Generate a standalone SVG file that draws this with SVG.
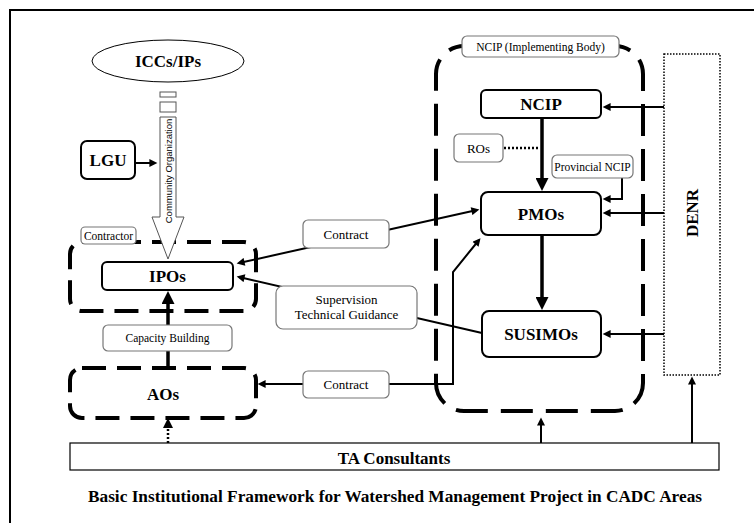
<svg xmlns="http://www.w3.org/2000/svg" width="754" height="523" viewBox="0 0 754 523" font-family="'Liberation Serif', 'Times New Roman', serif">
<defs>
<style>
.frame{fill:none;stroke:#000;stroke-width:2}
.grp{fill:none;stroke:#000;stroke-width:4;stroke-dasharray:24 11}
.grpn{fill:none;stroke:#000;stroke-width:4;stroke-dasharray:32 13}
.node{fill:#fff;stroke:#000;stroke-width:2}
.lbl{fill:#fff;stroke:#777;stroke-width:1.2}
.bt{font-family:'Liberation Serif','Times New Roman',serif;font-weight:bold;font-size:17px;text-anchor:middle;fill:#000}
.st{font-family:'Liberation Serif','Times New Roman',serif;font-size:13px;text-anchor:middle;fill:#000}
.ss{font-family:'Liberation Serif','Times New Roman',serif;font-size:11.5px;text-anchor:middle;fill:#000}
.ln{fill:none;stroke:#000;stroke-width:2}
.lt{fill:none;stroke:#000;stroke-width:3.5}
.dot{fill:none;stroke:#000;stroke-width:2.5;stroke-dasharray:2 2}
</style>
<marker id="a" viewBox="0 0 10 10" refX="7" refY="5" markerWidth="10" markerHeight="8" markerUnits="userSpaceOnUse" orient="auto-start-reverse"><path d="M0,0 L10,5 L0,10 z" fill="#000"/></marker>
<marker id="ab" viewBox="0 0 10 10" refX="7" refY="5" markerWidth="14" markerHeight="13" markerUnits="userSpaceOnUse" orient="auto-start-reverse"><path d="M0,0 L10,5 L0,10 z" fill="#000"/></marker>
</defs>
<rect width="754" height="523" fill="#fff"/>
<path class="frame" d="M10,523 L10,10 L754,10"/>

<g id="groups">
<rect class="grp" x="70" y="242" width="186" height="69" rx="12"/>
<rect class="grp" x="70" y="368" width="186" height="50" rx="12"/>
<rect class="grpn" x="436" y="46" width="207" height="365" rx="28"/>
</g>

<g id="connectors">
<line class="ln" x1="239" y1="263" x2="477" y2="210" marker-start="url(#a)" marker-end="url(#a)"/>
<line class="ln" x1="482" y1="333" x2="239" y2="277" marker-end="url(#a)"/>
<path class="ln" d="M260,384 L453,384 L453,272 L479,240" marker-start="url(#a)" marker-end="url(#a)"/>
<line class="lt" x1="542" y1="118" x2="542" y2="187" marker-end="url(#ab)"/>
<line class="lt" x1="542" y1="235" x2="542" y2="306" marker-end="url(#ab)"/>
<line class="lt" x1="168" y1="368" x2="168" y2="295" marker-end="url(#ab)"/>
<line class="ln" x1="664" y1="107" x2="605" y2="107" marker-end="url(#a)"/>
<line class="ln" x1="664" y1="213" x2="605" y2="213" marker-end="url(#a)"/>
<line class="ln" x1="664" y1="334" x2="605" y2="334" marker-end="url(#a)"/>
<path class="ln" d="M622,178 L622,199 L605,199" marker-end="url(#a)"/>
<line class="dot" x1="504" y1="148" x2="540" y2="148"/>
<line class="ln" x1="541" y1="443" x2="541" y2="420" marker-end="url(#a)"/>
<line class="ln" x1="692" y1="443" x2="692" y2="379" marker-end="url(#a)"/>
<line class="dot" x1="168" y1="443" x2="168" y2="424"/>
<path d="M163,428 L168,418 L173,428 z" fill="#000"/>
<line class="ln" x1="135" y1="163" x2="155" y2="163" stroke-width="1.3" marker-end="url(#a)"/>
</g>

<g id="community-organization">
<rect x="160" y="92" width="16" height="5" fill="#fff" stroke="#555" stroke-width="1"/>
<rect x="160" y="102" width="16" height="10" fill="#fff" stroke="#555" stroke-width="1"/>
<path d="M160,117 L176,117 L176,217 L184,217 L168,259 L152,217 L160,217 z" fill="#fff" stroke="#555" stroke-width="1"/>
<text transform="translate(168,171) rotate(-90)" font-family="'Liberation Sans', Arial, sans-serif" font-size="9.5" text-anchor="middle" dominant-baseline="central" fill="#000">Community Organization</text>
</g>

<g id="iccs">
<ellipse cx="168" cy="61" rx="76" ry="21" fill="#fff" stroke="#000" stroke-width="1"/>
<text class="bt" x="168" y="67" font-size="18">ICCs/IPs</text>
</g>

<g id="lgu">
<rect class="node" x="81" y="141" width="54" height="38" rx="6" stroke-width="1.2"/>
<text class="bt" x="108" y="166">LGU</text>
</g>

<g id="contractor">
<rect class="lbl" x="81" y="227" width="55" height="17" rx="4"/>
<text class="ss" x="108.5" y="239.5">Contractor</text>
</g>

<g id="ipos">
<rect class="node" x="102" y="262" width="131" height="28" rx="5"/>
<text class="bt" x="167.5" y="282">IPOs</text>
</g>

<g id="capacity">
<rect class="lbl" x="103" y="325" width="129" height="26" rx="5"/>
<text class="ss" x="167.5" y="342">Capacity Building</text>
</g>

<g id="aos">
<text class="bt" x="163" y="400">AOs</text>
</g>

<g id="contract1">
<rect class="lbl" x="303" y="220" width="86" height="28" rx="5"/>
<text class="st" x="346" y="238.5">Contract</text>
</g>

<g id="supervision">
<rect class="lbl" x="276" y="286" width="141" height="43" rx="7"/>
<text class="st" x="346.5" y="304">Supervision</text>
<text class="st" x="346.5" y="319">Technical Guidance</text>
</g>

<g id="contract2">
<rect class="lbl" x="303" y="371" width="86" height="27" rx="5"/>
<text class="st" x="346" y="389">Contract</text>
</g>

<g id="ncip-body">
<rect class="lbl" x="462" y="36" width="157" height="21" rx="5"/>
<text class="ss" x="540.5" y="50.5">NCIP (Implementing Body)</text>
</g>

<g id="ncip">
<rect class="node" x="481" y="90" width="120" height="28" rx="5"/>
<text class="bt" x="541" y="110">NCIP</text>
</g>

<g id="ros">
<rect class="lbl" x="454" y="134" width="49" height="28" rx="5"/>
<text class="st" x="478.5" y="152.5">ROs</text>
</g>

<g id="provincial">
<rect class="lbl" x="552" y="155" width="81" height="23" rx="5"/>
<text class="ss" x="592.5" y="170.5">Provincial NCIP</text>
</g>

<g id="pmos">
<rect class="node" x="481" y="192" width="120" height="43" rx="7"/>
<text class="bt" x="541" y="219.5">PMOs</text>
</g>

<g id="susimos">
<rect class="node" x="482" y="311" width="119" height="46" rx="7"/>
<text class="bt" x="541" y="340">SUSIMOs</text>
</g>

<g id="denr">
<rect x="664" y="54" width="56" height="321" fill="none" stroke="#000" stroke-width="1.5" stroke-dasharray="1.5 1.5"/>
<text class="bt" transform="translate(692,213) rotate(-90)" dominant-baseline="central">DENR</text>
</g>

<g id="ta">
<rect x="70" y="443" width="649" height="27" fill="#fff" stroke="#000" stroke-width="1.2"/>
<text class="bt" x="394" y="464">TA Consultants</text>
</g>

<text class="bt" x="395" y="502" font-size="15" textLength="614" lengthAdjust="spacingAndGlyphs">Basic Institutional Framework for Watershed Management Project in CADC Areas</text>
</svg>
